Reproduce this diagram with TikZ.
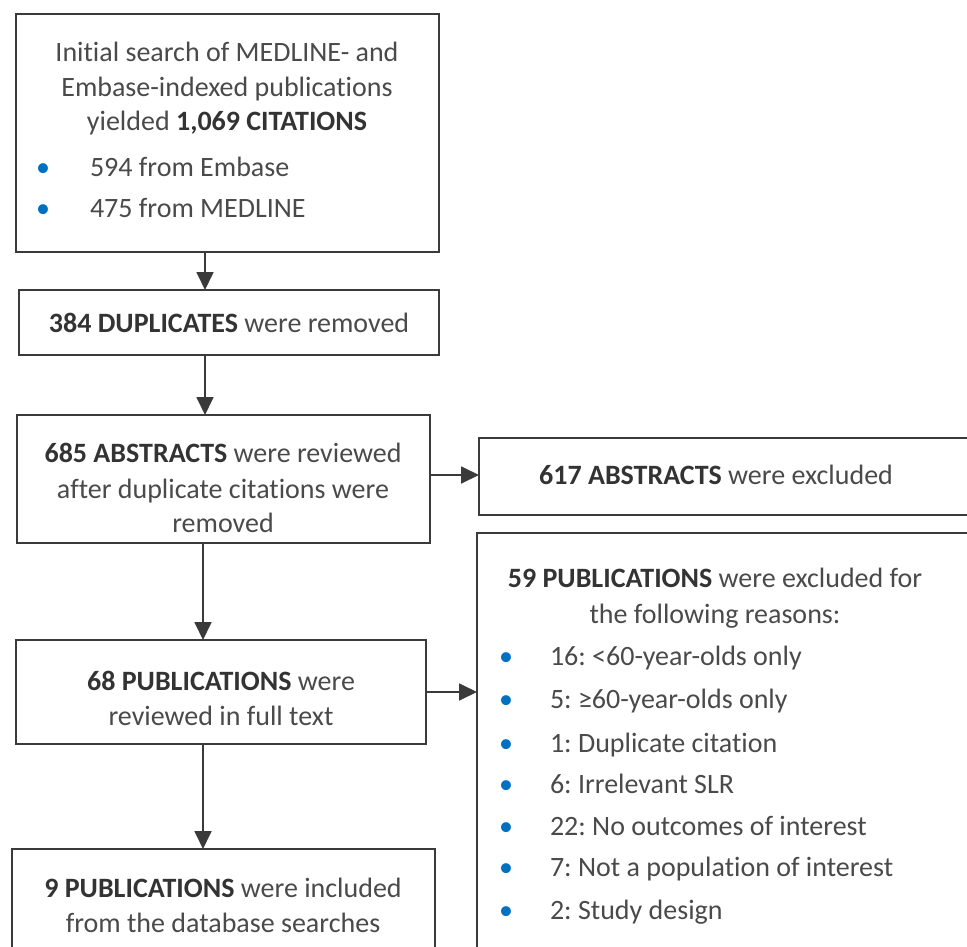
\documentclass[tikz,border=0pt]{standalone}
\usepackage{fontspec}
\setmainfont{Carlito}[RawFeature={-liga,-dlig,-clig}]
\usetikzlibrary{arrows.meta}
\frenchspacing
\definecolor{linec}{HTML}{3A3A3A}
\definecolor{txtc}{HTML}{4A4A4A}
\definecolor{boldc}{HTML}{333333}
\definecolor{bulc}{HTML}{0070C0}
\newcommand{\hb}[1]{\textbf{\color{boldc}#1}}
\tikzset{
  box/.style={draw=linec, line width=1.8pt, rectangle, inner sep=0pt, outer sep=0pt, fill=white},
  txt/.style={inner sep=0pt, outer sep=0pt, text=txtc, font=\fontsize{28}{35}\selectfont\frenchspacing},
  bul/.style={inner sep=0pt, outer sep=0pt, text=bulc, font=\fontsize{28}{35}\selectfont},
  arr/.style={draw=linec, line width=1.8pt, -{Triangle[length=18pt,width=17pt]}},
}
\begin{document}
\begin{tikzpicture}[x=1pt, y=-1pt]
\useasboundingbox (0,0) rectangle (967,947);
\clip (0,0) rectangle (967,947);
\fill[white] (0,0) rectangle (967,947);
% boxes
\node[box, anchor=north west, minimum width=423pt, minimum height=238pt] (b1) at (16,14) {};
\node[box, anchor=north west, minimum width=420pt, minimum height=65pt] (b2) at (19,290) {};
\node[box, anchor=north west, minimum width=413pt, minimum height=128pt] (b3) at (17,415) {};
\node[box, anchor=north west, minimum width=600pt, minimum height=77pt] (b4) at (479,438) {};
\node[box, anchor=north west, minimum width=600pt, minimum height=500pt] (b5) at (477,533) {};
\node[box, anchor=north west, minimum width=410pt, minimum height=104pt] (b6) at (16,640) {};
\node[box, anchor=north west, minimum width=423pt, minimum height=200pt] (b7) at (12,849) {};
% texts box 1
\node[txt, anchor=base] (t1a) at (227,62) {Initial search of MEDLINE- and};
\node[txt, anchor=base] (t1b) at (227,97) {Embase-indexed publications};
\node[txt, anchor=base] (t1c) at (227,131) {yielded \hb{1,069 CITATIONS}};
\node[bul, anchor=base] (d1a) at (43,176) {•};
\node[txt, anchor=base west] (t1d) at (90,176) {594 from Embase};
\node[bul, anchor=base] (d1b) at (43,217) {•};
\node[txt, anchor=base west] (t1e) at (90,217) {475 from MEDLINE};
% box 2
\node[txt, anchor=base] (t2) at (229,332) {\hb{384 DUPLICATES} were removed};
% box 3
\node[txt, anchor=base] (t3a) at (223,462) {\hb{685 ABSTRACTS} were reviewed};
\node[txt, anchor=base] (t3b) at (223,498) {after duplicate citations were};
\node[txt, anchor=base] (t3c) at (223,532) {removed};
% box 4
\node[txt, anchor=base] (t4) at (716,484) {\hb{617 ABSTRACTS} were excluded};
% box 5
\node[txt, anchor=base] (t5a) at (715,587) {\hb{59 PUBLICATIONS} were excluded for};
\node[txt, anchor=base] (t5b) at (715,623) {the following reasons:};
\foreach \yy/\lbl [count=\i] in {665/{16: <60-year-olds only},708/{5: ≥60-year-olds only},752/{1: Duplicate citation},793/{6: Irrelevant SLR},835/{22: No outcomes of interest},876/{7: Not a population of interest},919/{2: Study design}}{
  \node[bul, anchor=base] (d5\i) at (506,\yy) {•};
  \node[txt, anchor=base west] (t5\i) at (550,\yy) {\lbl};
}
% box 6
\node[txt, anchor=base] (t6a) at (221,690) {\hb{68 PUBLICATIONS} were};
\node[txt, anchor=base] (t6b) at (221,725) {reviewed in full text};
% box 7
\node[txt, anchor=base] (t7a) at (223,897) {\hb{9 PUBLICATIONS} were included};
\node[txt, anchor=base] (t7b) at (223,932) {from the database searches};
% connectors
\coordinate (c1) at (205,0);
\coordinate (c2) at (203,0);
\draw[arr] (b1.south -| c1) -- (b2.north -| c1);
\draw[arr] (b2.south -| c1) -- (b3.north -| c1);
\draw[arr] (b3.south -| c2) -- (b6.north -| c2);
\draw[arr] (b6.south -| c2) -- (b7.north -| c2);
\coordinate (r1) at (0,475);
\coordinate (r2) at (0,692);
\draw[arr] (b3.east |- r1) -- (b4.west |- r1);
\draw[arr] (b6.east |- r2) -- (b5.west |- r2);
\end{tikzpicture}
\end{document}
